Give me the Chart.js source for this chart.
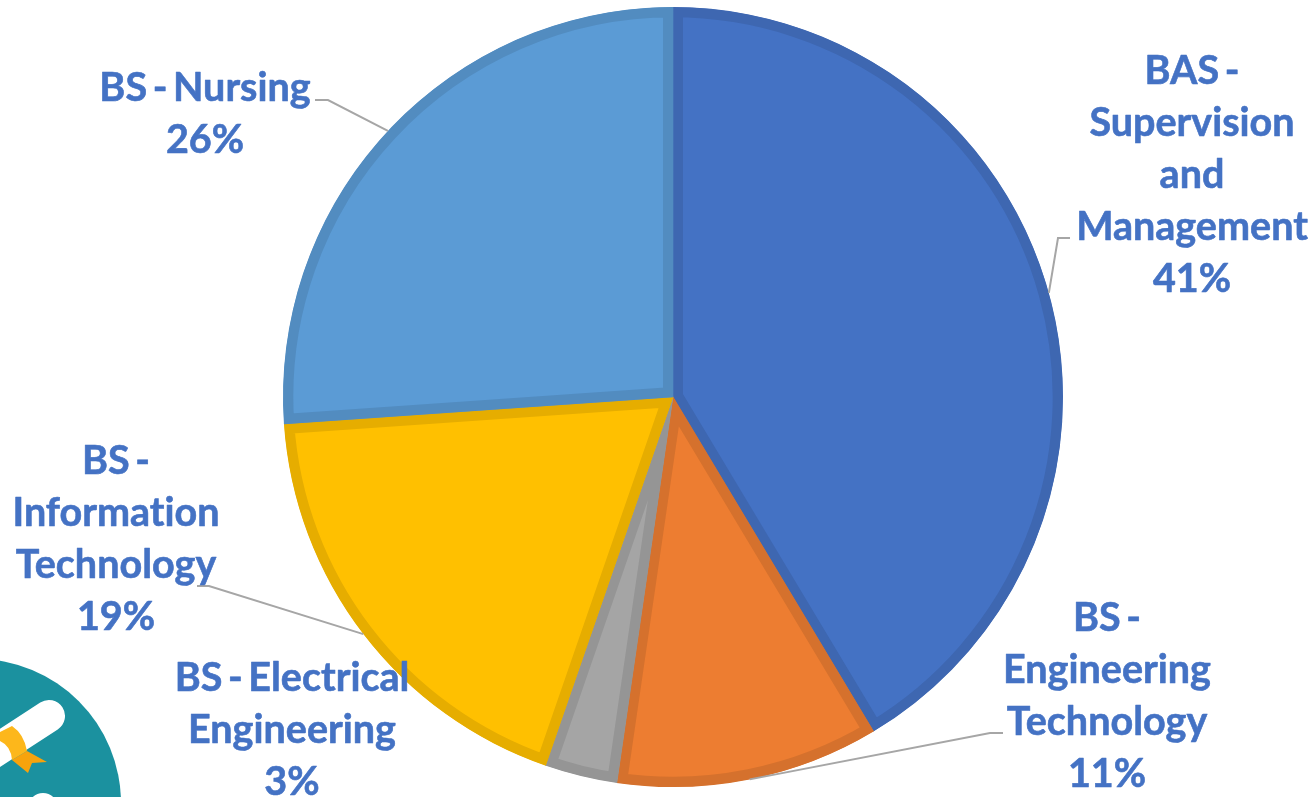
<!DOCTYPE html>
<html>
<head>
<meta charset="utf-8">
<title>Degree programs</title>
<script src="https://cdn.jsdelivr.net/npm/chart.js@4"></script>
<style>
  html, body { margin: 0; padding: 0; background: #fff; overflow: hidden; }
  canvas { display: block; }
</style>
</head>
<body>
<canvas id="pieChart" width="1316" height="797"></canvas>
<script>
const programs = ['BAS - Supervision and Management', 'BS - Engineering Technology', 'BS - Electrical Engineering', 'BS - Information Technology', 'BS - Nursing'];
const shares = [41.4, 10.9, 3.0, 18.6, 26.1];
const fillColors = ['#4472C4', '#ED7D31', '#A5A5A5', '#FFC000', '#5B9BD5'];
const edgeColors = ['#3E67B1', '#D5712D', '#959595', '#E6AD00', '#528CC0'];

// wrapped the way the original labels wrap
const labelLines = [
  ['BAS -', 'Supervision', 'and', 'Management'],
  ['BS -', 'Engineering', 'Technology'],
  ['BS - Electrical', 'Engineering'],
  ['BS -', 'Information', 'Technology'],
  ['BS - Nursing']
];
// centre x and first line middle y of each label block
const labelAnchors = [[1192, 71], [1107, 618], [292, 678], [116, 461], [205, 88]];
// elbow of each leader, null = no leader
const leaderElbows = [
  [[1058, 238], [1070, 238]],
  [[990, 733], [1003, 733]],
  null,
  [[209, 586], [197, 586]],
  [[328, 100], [315, 100]]
];

const pieLabels = {
  id: 'pieLabels',
  afterDraw(chart) {
    const ctx = chart.ctx;
    const arcs = chart.getDatasetMeta(0).data;

    arcs.forEach((arc, i) => {
      if (!leaderElbows[i]) return;
      const mid = (arc.startAngle + arc.endAngle) / 2;
      ctx.beginPath();
      ctx.moveTo(arc.x + Math.cos(mid) * arc.outerRadius, arc.y + Math.sin(mid) * arc.outerRadius);
      leaderElbows[i].forEach(p => ctx.lineTo(p[0], p[1]));
      ctx.strokeStyle = '#A6A6A6';
      ctx.lineWidth = 2;
      ctx.stroke();
    });

    ctx.font = "bold 39.5px Lato, sans-serif";
    ctx.wordSpacing = '-4px';
    ctx.letterSpacing = '0.01px'; // no "ti" ligature
    ctx.fillStyle = '#4472C4';
    ctx.strokeStyle = '#4472C4';
    ctx.lineWidth = 0.6;
    ctx.lineJoin = 'round';
    ctx.textAlign = 'center';
    ctx.textBaseline = 'middle';
    const total = shares.reduce((a, b) => a + b, 0);
    labelLines.forEach((lines, i) => {
      const all = lines.concat(Math.round(shares[i] / total * 100) + '%');
      all.forEach((t, j) => {
        ctx.fillText(t, labelAnchors[i][0], labelAnchors[i][1] + j * 52);
        ctx.strokeText(t, labelAnchors[i][0], labelAnchors[i][1] + j * 52);
      });
    });
  }
};

// the teal badge with the diploma in the bottom left corner
const badge = {
  id: 'badge',
  beforeDraw(chart) {
    const ctx = chart.ctx;
    ctx.save();
    ctx.fillStyle = '#1B919F';
    ctx.beginPath();
    ctx.arc(-23, 803, 144, 0, Math.PI * 2);
    ctx.fill();

    // scroll
    ctx.strokeStyle = '#fff';
    ctx.lineWidth = 32;
    ctx.lineCap = 'round';
    ctx.beginPath();
    ctx.moveTo(-20, 761);
    ctx.lineTo(49, 716);
    ctx.stroke();

    // ribbon tail
    ctx.fillStyle = '#F7A30C';
    ctx.beginPath();
    [[12, 760], [28, 773], [32, 763], [47, 762], [27, 751]].forEach(p => ctx.lineTo(p[0], p[1]));
    ctx.fill();

    // band
    ctx.fillStyle = '#FDB71B';
    ctx.beginPath();
    ctx.moveTo(0, 732);
    ctx.lineTo(12, 726);
    ctx.quadraticCurveTo(24, 734, 27, 751);
    ctx.lineTo(12, 760);
    ctx.quadraticCurveTo(11, 746, 0, 741);
    ctx.fill();

    // bit of white at the bottom edge
    ctx.fillStyle = '#fff';
    ctx.beginPath();
    ctx.arc(43, 808, 15, 0, Math.PI * 2);
    ctx.fill();
    ctx.restore();
  }
};

new Chart(document.getElementById('pieChart'), {
  type: 'pie',
  data: {
    labels: programs,
    datasets: [{
      data: shares,
      backgroundColor: fillColors,
      borderColor: edgeColors,
      borderWidth: 10,
      borderAlign: 'inner'
    }]
  },
  options: {
    responsive: false,
    animation: false,
    layout: { padding: { left: 30, right: 0, top: 7, bottom: 10 } },
    plugins: { legend: { display: false }, tooltip: { enabled: false } }
  },
  plugins: [badge, pieLabels]
});
</script>
</body>
</html>
